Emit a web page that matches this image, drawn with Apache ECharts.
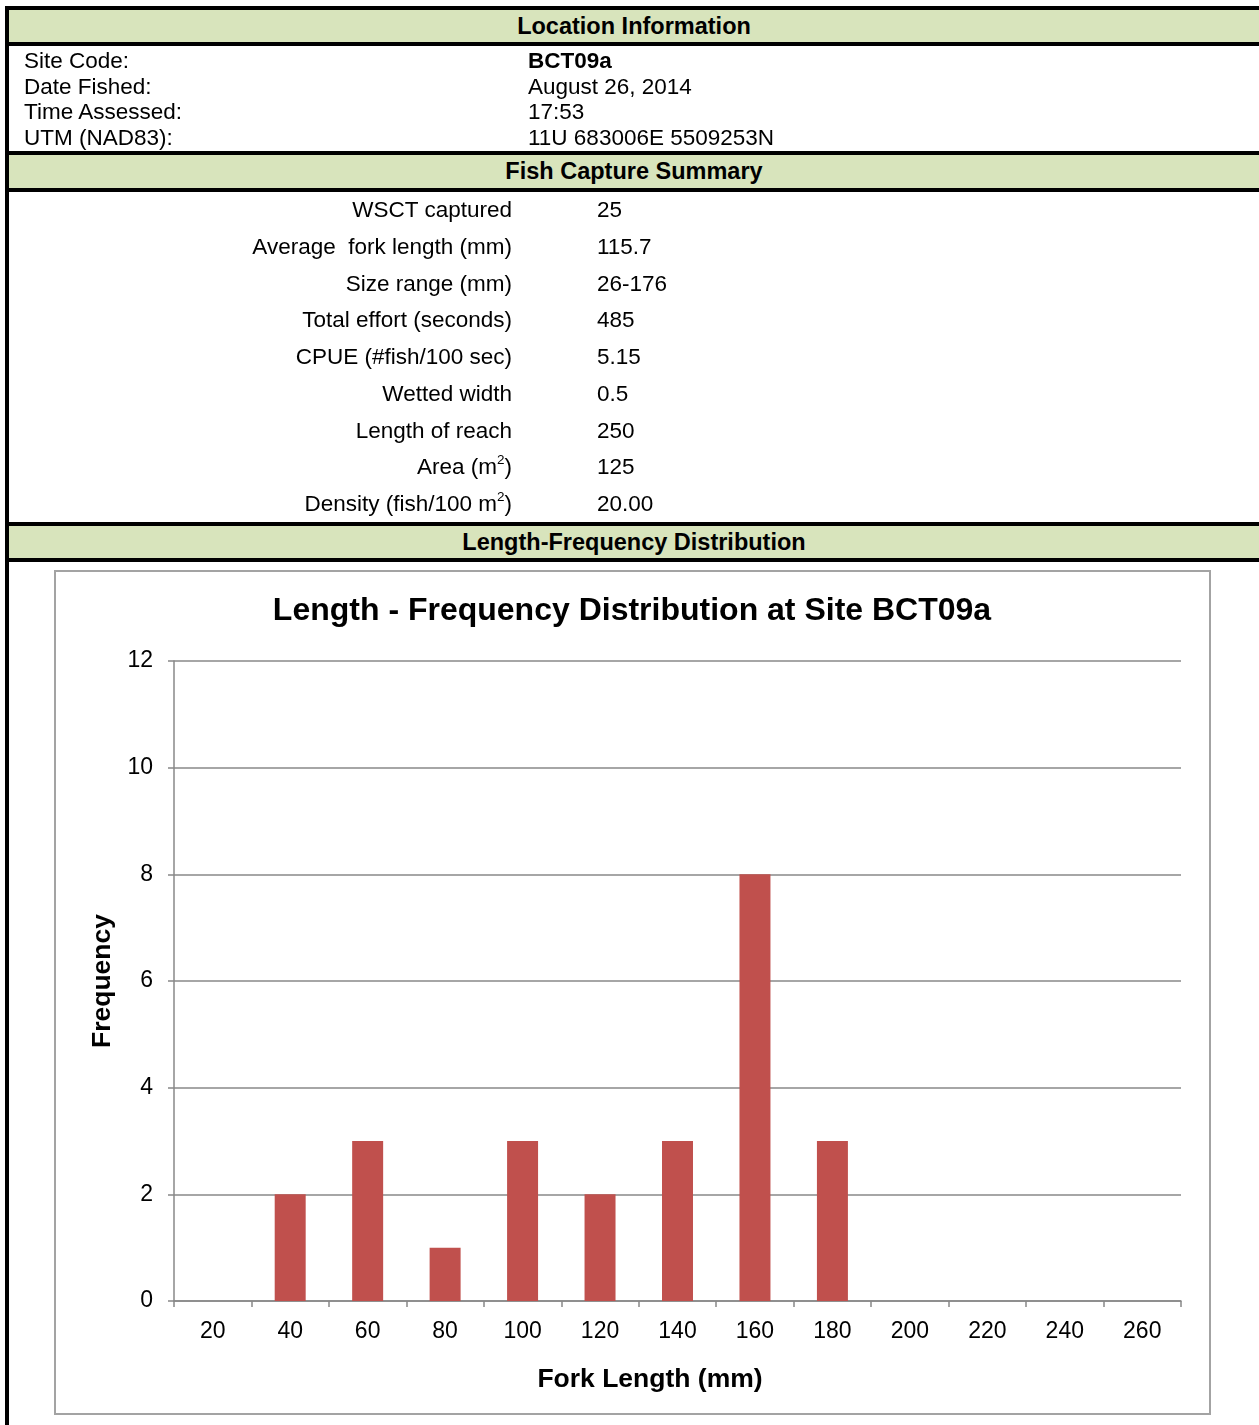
<!DOCTYPE html>
<html><head><meta charset="utf-8">
<script src="https://cdn.jsdelivr.net/npm/echarts@6/dist/echarts.min.js"></script>
<style>
html,body{margin:0;padding:0;background:#fff;width:1259px;height:1425px;overflow:hidden;font-family:"Liberation Sans",Arial,sans-serif;}
.blk{position:absolute;background:#000;}
.grn{position:absolute;background:#D8E4BC;}
.t{position:absolute;height:30px;line-height:30px;font-size:22.5px;color:#000;white-space:pre;}
.h{position:absolute;height:30px;line-height:30px;font-size:23.5px;font-weight:bold;color:#000;white-space:pre;transform:translateX(-50%);}
sup{font-size:0.6em;line-height:0;vertical-align:0.75em;}
</style></head><body>
<div id="chart" style="position:absolute;left:0;top:0;width:1259px;height:1425px"></div>
<div id="box" style="position:absolute;left:54px;top:570px;width:1157px;height:845px;box-sizing:border-box;border:2px solid #a3a3a3;"></div>
<div id="table"></div>
<script>
// ---- data ----
const headers = ['Location Information', 'Fish Capture Summary', 'Length-Frequency Distribution'];
const locationLabels = ['Site Code:', 'Date Fished:', 'Time Assessed:', 'UTM (NAD83):'];
const locationValues = ['BCT09a', 'August 26, 2014', '17:53', '11U 683006E 5509253N'];
const summaryLabels = ['WSCT captured', 'Average  fork length (mm)', 'Size range (mm)', 'Total effort (seconds)',
  'CPUE (#fish/100 sec)', 'Wetted width', 'Length of reach', 'Area (m<sup>2</sup>)', 'Density (fish/100 m<sup>2</sup>)'];
const summaryValues = ['25', '115.7', '26-176', '485', '5.15', '0.5', '250', '125', '20.00'];
const chartTitle = 'Length - Frequency Distribution at Site BCT09a';
const forkLengthCategories = ['20','40','60','80','100','120','140','160','180','200','220','240','260'];
const frequency = [0, 2, 3, 1, 3, 2, 3, 8, 3, 0, 0, 0, 0];

// ---- table layout ----
const tbl = document.getElementById('table');
function el(cls, style, html) {
  const d = document.createElement('div');
  d.className = cls;
  Object.assign(d.style, style);
  if (html !== undefined) d.innerHTML = html;
  tbl.appendChild(d);
  return d;
}
// black rules
[6, 42, 151, 188, 522, 558].forEach(y => el('blk', {left: '5px', top: y + 'px', width: '1254px', height: '4px'}));
// green header bands
[[10, 32], [155, 33], [526, 32]].forEach(([y, h]) => el('grn', {left: '9px', top: y + 'px', width: '1250px', height: h + 'px'}));
// left border
el('blk', {left: '5px', top: '6px', width: '4px', height: '1419px'});
// header text
[26, 171, 542].forEach((cy, i) => el('h', {left: '634px', top: (cy - 15) + 'px'}, headers[i]));
// location rows
const locY = [61, 87, 112, 138];
locationLabels.forEach((s, i) => el('t', {left: '24px', top: (locY[i] - 15) + 'px'}, s));
locationValues.forEach((s, i) => el('t', {left: '528px', top: (locY[i] - 15) + 'px', fontWeight: i === 0 ? 'bold' : 'normal'}, s));
// summary rows
const sumY = [210, 247, 284, 320, 357, 394, 431, 467, 504];
summaryLabels.forEach((s, i) => el('t', {right: (1259 - 512) + 'px', top: (sumY[i] - 15) + 'px', textAlign: 'right'}, s));
summaryValues.forEach((s, i) => el('t', {left: '597px', top: (sumY[i] - 15) + 'px'}, s));

// ---- chart ----
const chart = echarts.init(document.getElementById('chart'), null, {renderer: 'canvas'});
const axisColor = '#888888';
const font = 'Liberation Sans';
chart.setOption({
  animation: false,
  backgroundColor: 'transparent',
  grid: {left: 174, top: 661, width: 1007, height: 640, containLabel: false},
  graphic: [{
    type: 'text', x: 632, y: 611,
    style: {text: chartTitle, font: 'bold 32px "Liberation Sans"', fill: '#000', textAlign: 'center', textVerticalAlign: 'middle'}
  }],
  xAxis: {
    type: 'category',
    data: forkLengthCategories,
    boundaryGap: true,
    axisLine: {show: true, lineStyle: {color: axisColor, width: 1.5}},
    axisTick: {show: true, alignWithLabel: false, length: 6, inside: false, lineStyle: {color: axisColor, width: 1.5}},
    axisLabel: {color: '#000', fontSize: 23, fontFamily: font, margin: 19, interval: 0},
    splitLine: {show: false},
    name: 'Fork Length (mm)',
    nameLocation: 'middle',
    nameGap: 65,
    nameTextStyle: {color: '#000', fontSize: 26.5, fontWeight: 'bold', fontFamily: font, padding: [0, 55, 0, 0]}
  },
  yAxis: {
    type: 'value',
    min: 0, max: 12, interval: 2,
    axisLine: {show: true, lineStyle: {color: axisColor, width: 1.5}},
    axisTick: {show: true, length: 6, lineStyle: {color: axisColor, width: 1.5}},
    axisLabel: {color: '#000', fontSize: 23, fontFamily: font, margin: 21, padding: [4, 0, 0, 0]},
    splitLine: {show: true, lineStyle: {color: axisColor, width: 1.5}},
    name: 'Frequency',
    nameLocation: 'middle',
    nameRotate: 90,
    nameGap: 58,
    nameTextStyle: {color: '#000', fontSize: 26.5, fontWeight: 'bold', fontFamily: font}
  },
  series: [{
    type: 'bar',
    data: frequency,
    barWidth: '40%',
    itemStyle: {color: '#C0504D'}
  }]
});
</script>
</body></html>
